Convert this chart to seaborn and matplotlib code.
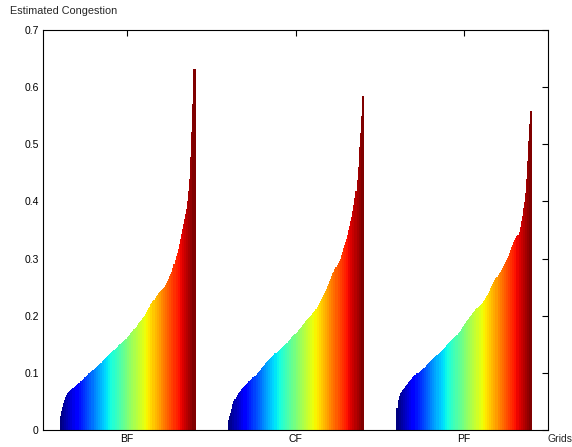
import matplotlib
matplotlib.use("Agg")
import matplotlib.pyplot as plt
import seaborn as sns
import pandas as pd

groups = ["BF", "CF", "PF"]

bf_values = [0.025, 0.033, 0.041, 0.047, 0.052, 0.057, 0.061, 0.064, 0.066, 0.068,
             0.070, 0.072, 0.074, 0.075, 0.077, 0.079, 0.080, 0.082, 0.083, 0.085,
             0.086, 0.088, 0.090, 0.092, 0.093, 0.095, 0.097, 0.099, 0.100, 0.102,
             0.104, 0.105, 0.107, 0.108, 0.110, 0.112, 0.113, 0.115, 0.117, 0.118,
             0.120, 0.122, 0.124, 0.126, 0.127, 0.129, 0.131, 0.133, 0.135, 0.137,
             0.139, 0.140, 0.142, 0.144, 0.146, 0.148, 0.150, 0.151, 0.153, 0.154,
             0.156, 0.157, 0.159, 0.160, 0.162, 0.164, 0.166, 0.169, 0.171, 0.174,
             0.176, 0.179, 0.181, 0.184, 0.187, 0.189, 0.191, 0.193, 0.196, 0.198,
             0.200, 0.203, 0.206, 0.210, 0.213, 0.216, 0.220, 0.223, 0.226, 0.228,
             0.231, 0.234, 0.237, 0.239, 0.241, 0.243, 0.245, 0.247, 0.249, 0.251,
             0.254, 0.257, 0.261, 0.265, 0.269, 0.273, 0.277, 0.283, 0.290, 0.297,
             0.304, 0.310, 0.317, 0.326, 0.335, 0.343, 0.352, 0.360, 0.369, 0.378,
             0.387, 0.400, 0.418, 0.440, 0.478, 0.522, 0.570, 0.631]

cf_values = [0.018, 0.025, 0.030, 0.037, 0.045, 0.051, 0.055, 0.058, 0.061, 0.064,
             0.067, 0.069, 0.071, 0.073, 0.075, 0.077, 0.079, 0.081, 0.083, 0.085,
             0.086, 0.088, 0.090, 0.092, 0.093, 0.095, 0.097, 0.099, 0.101, 0.103,
             0.105, 0.108, 0.110, 0.112, 0.114, 0.117, 0.119, 0.121, 0.123, 0.124,
             0.126, 0.128, 0.130, 0.132, 0.134, 0.135, 0.137, 0.139, 0.140, 0.142,
             0.144, 0.145, 0.147, 0.148, 0.150, 0.152, 0.153, 0.155, 0.158, 0.160,
             0.162, 0.164, 0.166, 0.168, 0.170, 0.172, 0.175, 0.177, 0.179, 0.181,
             0.184, 0.186, 0.188, 0.190, 0.193, 0.194, 0.196, 0.198, 0.200, 0.202,
             0.204, 0.206, 0.209, 0.212, 0.216, 0.219, 0.223, 0.226, 0.229, 0.233,
             0.236, 0.240, 0.244, 0.247, 0.252, 0.256, 0.261, 0.265, 0.270, 0.274,
             0.277, 0.281, 0.285, 0.289, 0.292, 0.296, 0.300, 0.306, 0.312, 0.318,
             0.323, 0.329, 0.335, 0.342, 0.350, 0.357, 0.365, 0.373, 0.383, 0.394,
             0.406, 0.418, 0.438, 0.460, 0.495, 0.520, 0.550, 0.584]

pf_values = [0.038, 0.053, 0.060, 0.064, 0.067, 0.070, 0.072, 0.074, 0.077, 0.079,
             0.081, 0.084, 0.086, 0.088, 0.090, 0.092, 0.094, 0.096, 0.097, 0.099,
             0.100, 0.102, 0.103, 0.105, 0.106, 0.108, 0.109, 0.111, 0.113, 0.115,
             0.117, 0.119, 0.120, 0.122, 0.124, 0.126, 0.127, 0.129, 0.131, 0.133,
             0.135, 0.137, 0.139, 0.140, 0.142, 0.144, 0.146, 0.148, 0.150, 0.152,
             0.154, 0.155, 0.157, 0.159, 0.161, 0.162, 0.164, 0.167, 0.169, 0.172,
             0.174, 0.177, 0.180, 0.182, 0.185, 0.187, 0.190, 0.192, 0.195, 0.197,
             0.200, 0.202, 0.205, 0.207, 0.209, 0.212, 0.214, 0.215, 0.217, 0.219,
             0.221, 0.223, 0.226, 0.228, 0.231, 0.234, 0.237, 0.240, 0.244, 0.248,
             0.252, 0.256, 0.259, 0.263, 0.266, 0.268, 0.271, 0.274, 0.277, 0.280,
             0.283, 0.287, 0.290, 0.294, 0.297, 0.301, 0.305, 0.310, 0.315, 0.320,
             0.324, 0.329, 0.333, 0.336, 0.339, 0.342, 0.347, 0.356, 0.365, 0.375,
             0.388, 0.399, 0.415, 0.440, 0.470, 0.505, 0.535, 0.558]

ytick_values = [0, 0.1, 0.2, 0.3, 0.4, 0.5, 0.6, 0.7]
ytick_labels = ["0", "0.1", "0.2", "0.3", "0.4", "0.5", "0.6", "0.7"]

n = len(bf_values)
ranks = [f"r{i:03d}" for i in range(n)]
rows = []
for g, vals in zip(groups, [bf_values, cf_values, pf_values]):
    for r, v in zip(ranks, vals):
        rows.append({"group": g, "rank": r, "value": v})
df = pd.DataFrame(rows)

sns.set_style("white")
plt.rcParams["font.family"] = ["Liberation Sans", "DejaVu Sans"]

fig = plt.figure(figsize=(5.72, 4.47), dpi=100)
ax = fig.add_axes([43 / 572, 17 / 447, 505 / 572, 400 / 447])

# MATLAB-like jet(64) colormap shared across the series
jet = matplotlib.colormaps["jet"]
levels = 64
palette = [jet((i * levels // n) / (levels - 1)) for i in range(n)]
sns.barplot(data=df, x="group", y="value", hue="rank", order=groups,
            hue_order=ranks, palette=palette, errorbar=None, width=0.8,
            legend=False, ax=ax, saturation=1)
for p in ax.patches:
    p.set_edgecolor(p.get_facecolor())
    p.set_linewidth(0.5)
    p.set_antialiased(False)

ax.set_xlim(-0.5, 2.5)
ax.set_ylim(0, 0.7)
ax.set_yticks(ytick_values)
ax.set_yticklabels(ytick_labels)
ax.set_xlabel("")
ax.set_ylabel("")
for s in ax.spines.values():
    s.set_visible(True)
    s.set_color("black")
    s.set_linewidth(0.8)
    s.set_zorder(5)
ax.tick_params(axis="both", direction="in", length=4, width=0.8, labelsize=7.5,
               colors="black", top=True, right=True, pad=3)

fig.text(10 / 572, 1 - 11 / 447, "Estimated Congestion", fontsize=7.8,
         ha="left", va="center")
fig.text(547 / 572, 1 - 439 / 447, "Grids", fontsize=7.5, ha="left", va="center")

fig.savefig("out.png", dpi=100)
